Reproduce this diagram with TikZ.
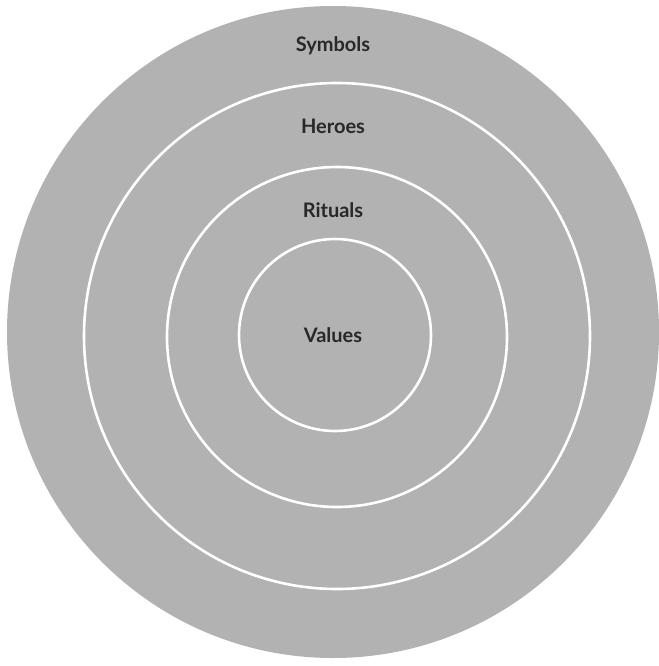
\documentclass[tikz,border=0pt]{standalone}
\usepackage{fontspec}
\setmainfont{Lato}
\definecolor{ringgrey}{RGB}{178,178,178}
\definecolor{labelink}{RGB}{40,40,40}
\tikzset{
  ringline/.style={circle, draw=white, line width=2.6pt, inner sep=0pt},
  outerdisc/.style={circle, fill=ringgrey, draw=none, inner sep=0pt},
  layerlabel/.style={font=\fontsize{20}{24}\selectfont\bfseries, text=labelink, inner sep=0pt}
}
\begin{document}
\begin{tikzpicture}[x=1pt,y=-1pt]
\useasboundingbox (0,0) rectangle (658,666);
\node[outerdisc, minimum size=652pt] (outer) at (333,332) {};
\node[ringline, minimum size=506pt] (heroesring) at (337,336) {};
\node[ringline, minimum size=340pt] (ritualsring) at (337,337) {};
\node[ringline, minimum size=192pt] (valuesring) at (335,335) {};
\node[layerlabel] (symbols) at (333,46) {Symbols};
\node[layerlabel] (heroes) at (333,126) {Heroes};
\node[layerlabel] (rituals) at (333,210) {Rituals};
\node[layerlabel] (values) at (333,335) {Values};
\end{tikzpicture}
\end{document}
